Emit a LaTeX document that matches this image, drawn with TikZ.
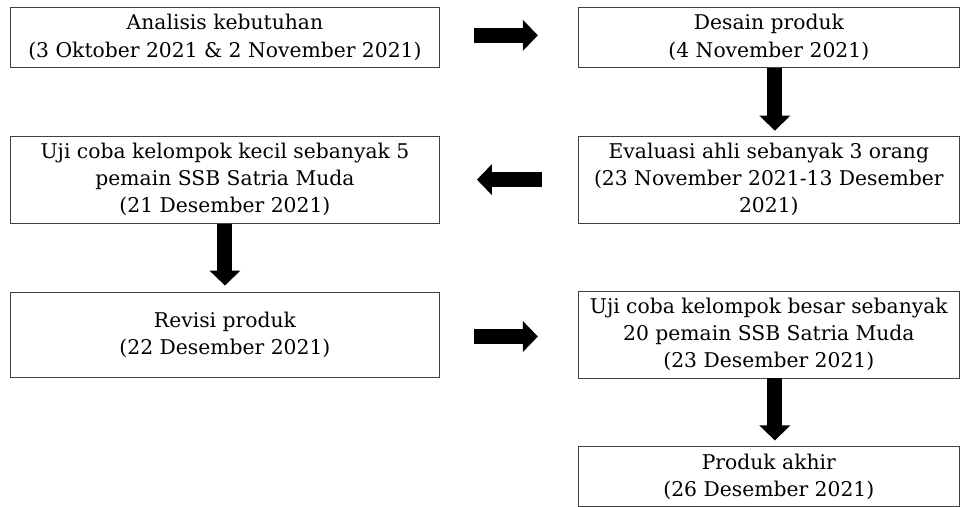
\documentclass[tikz,border=0pt]{standalone}
\usepackage{fontspec}
\setmainfont{DejaVu Serif}
\usetikzlibrary{arrows.meta,positioning}

\begin{document}
\begin{tikzpicture}[
      x=1pt,y=1pt,
      node distance=68pt and 138pt,
      every node/.style={font=\fontsize{20.3}{27.2}\selectfont},
      box/.style={draw=black!75,line width=0.9pt,align=center,
                  inner xsep=4pt,inner ysep=7pt},
      wide/.style={box,minimum width=429pt},
      narrow/.style={box,minimum width=381pt},
      arr/.style={-{Triangle[length=15pt,width=30pt]},line width=15pt},
    ]
      \node[wide] (analisis) {Analisis kebutuhan\\(3 Oktober 2021 \& 2 November 2021)};
      \node[narrow,right=of analisis] (desain) {Desain produk\\(4 November 2021)};
      \node[narrow,below=of desain] (evaluasi) {Evaluasi ahli sebanyak 3 orang\\(23 November 2021-13 Desember\\2021)};
      \node[wide,left=of evaluasi] (ujikecil) {Uji coba kelompok kecil sebanyak 5\\pemain SSB Satria Muda\\(21 Desember 2021)};
      \node[wide,below=of ujikecil,minimum height=85pt] (revisi) {Revisi produk\\(22 Desember 2021)};
      \node[narrow,right=of revisi] (ujibesar) {Uji coba kelompok besar sebanyak\\20 pemain SSB Satria Muda\\(23 Desember 2021)};
      \node[narrow,below=of ujibesar] (akhir) {Produk akhir\\(26 Desember 2021)};
      % block arrows between the steps
      \draw[arr,shorten <=34pt,shorten >=40pt] ([yshift=2pt]analisis.east)--([yshift=2pt]desain.west);
      \draw[arr,shorten >=5pt] ([xshift=6pt]desain.south)--([xshift=6pt]evaluasi.north);
      \draw[arr,shorten <=36pt,shorten >=37pt] (evaluasi.west)--(ujikecil.east);
      \draw[arr,shorten >=6pt] (ujikecil.south)--(revisi.north);
      \draw[arr,shorten <=34pt,shorten >=40pt] ([yshift=-2pt]revisi.east)--([yshift=-2pt]ujibesar.west);
      \draw[arr,shorten >=6pt] ([xshift=6pt]ujibesar.south)--([xshift=6pt]akhir.north);
      \pgfresetboundingbox
      \useasboundingbox ([xshift=-10pt,yshift=7pt]analisis.north west) rectangle ++(960pt,-506pt);
    \end{tikzpicture}
\end{document}
